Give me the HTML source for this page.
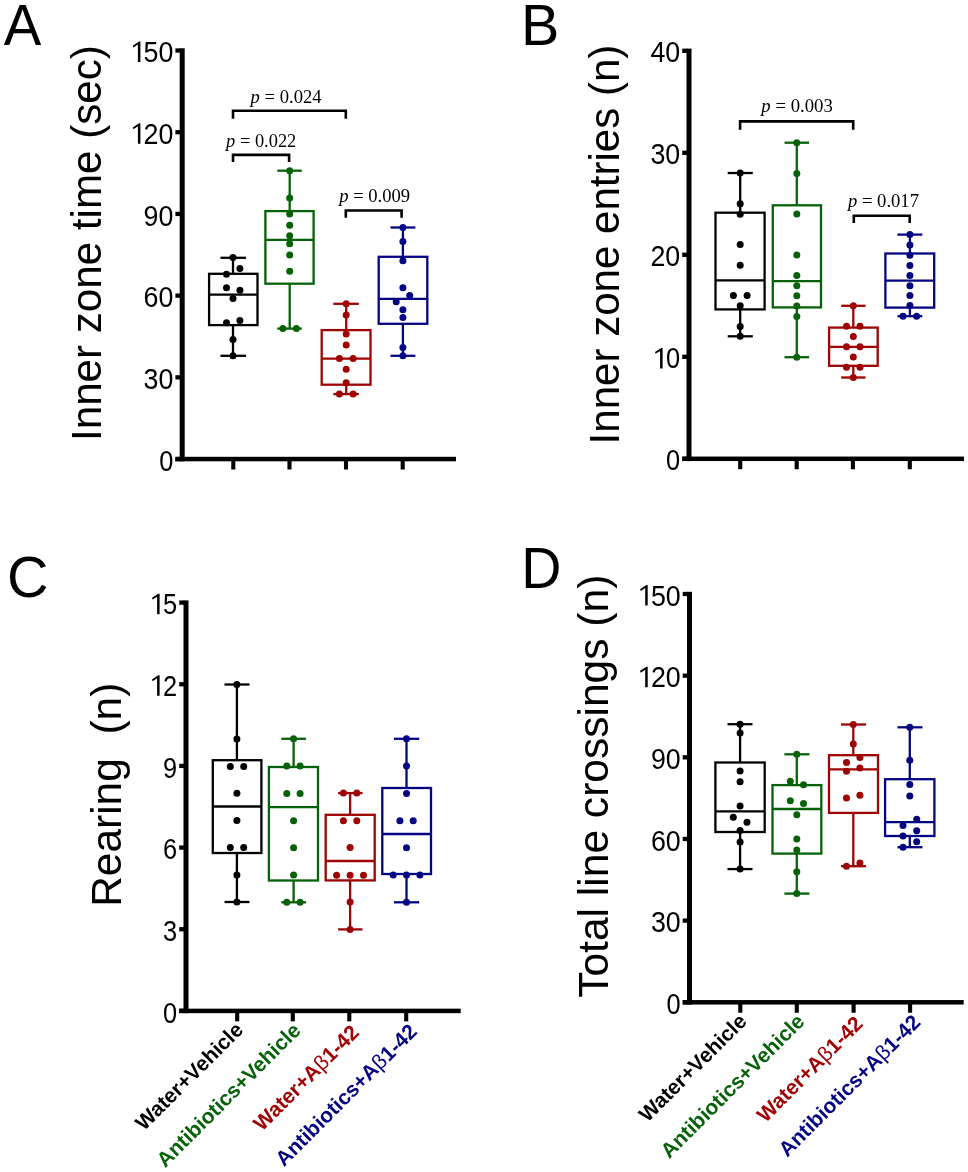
<!DOCTYPE html><html><head><meta charset="utf-8"><style>
html,body{margin:0;padding:0;background:#fff;}svg{display:block;will-change:transform;}
text{font-family:"Liberation Sans",sans-serif;}
.tl{font-size:29.6px;}
.pl{font-size:57.5px;}
.pv{font-family:"Liberation Serif",serif;font-size:18px;}
.xl{font-weight:bold;}
.beta{font-weight:normal;}
</style></head><body>
<svg width="968" height="1172" viewBox="0 0 968 1172">
<rect width="968" height="1172" fill="#fff"/>
<text class="pl" x="3.7" y="44.8" textLength="37.55" lengthAdjust="spacingAndGlyphs">A</text>
<text class="pl" x="521.1" y="44.8">B</text>
<text class="pl" x="7.1" y="597.1">C</text>
<text class="pl" x="521.3" y="587.9" textLength="40.2" lengthAdjust="spacingAndGlyphs">D</text>
<rect x="179.70" y="48.30" width="5.0" height="413.00" fill="#000"/>
<rect x="175.40" y="456.80" width="280.60" height="4.5" fill="#000"/>
<rect x="175.40" y="48.35" width="5.30" height="4.3" fill="#000"/>
<rect x="175.40" y="130.06" width="5.30" height="4.3" fill="#000"/>
<rect x="175.40" y="211.77" width="5.30" height="4.3" fill="#000"/>
<rect x="175.40" y="293.48" width="5.30" height="4.3" fill="#000"/>
<rect x="175.40" y="375.19" width="5.30" height="4.3" fill="#000"/>
<rect x="175.40" y="456.90" width="5.30" height="4.3" fill="#000"/>
<rect x="231.25" y="459.05" width="4.1" height="10.45" fill="#000"/>
<rect x="287.45" y="459.05" width="4.1" height="10.45" fill="#000"/>
<rect x="343.95" y="459.05" width="4.1" height="10.45" fill="#000"/>
<rect x="400.65" y="459.05" width="4.1" height="10.45" fill="#000"/>
<text class="tl" text-anchor="end" transform="translate(173.43,62.10) scale(0.906,1)">50</text>
<path d="M140.40 41.60L140.40 62.10L137.90 62.10L137.90 44.60L133.40 47.50L132.80 45.70L139.10 41.60Z" fill="#000"/>
<text class="tl" text-anchor="end" transform="translate(173.43,143.81) scale(0.906,1)">20</text>
<path d="M140.40 123.31L140.40 143.81L137.90 143.81L137.90 126.31L133.40 129.21L132.80 127.41L139.10 123.31Z" fill="#000"/>
<text class="tl" text-anchor="end" transform="translate(173.43,225.52) scale(0.906,1)">90</text>
<text class="tl" text-anchor="end" transform="translate(173.43,307.23) scale(0.906,1)">60</text>
<text class="tl" text-anchor="end" transform="translate(173.43,388.94) scale(0.906,1)">30</text>
<text class="tl" text-anchor="end" transform="translate(173.40,470.65) scale(0.858,1)">0</text>
<text class="yl" font-size="42.4" transform="translate(101,441.0) rotate(-90)" textLength="395.8" lengthAdjust="spacingAndGlyphs">Inner zone time (sec)</text>
<g stroke="#000000" stroke-width="2.3" fill="none">
<line x1="233.0" y1="257.8" x2="233.0" y2="273.8"/>
<line x1="233.0" y1="325.1" x2="233.0" y2="355.8"/>
<line x1="220.5" y1="257.8" x2="246.0" y2="257.8"/>
<line x1="220.5" y1="355.8" x2="246.0" y2="355.8"/>
<rect x="209.1" y="273.8" width="48.40" height="51.30"/>
<line x1="209.1" y1="294.6" x2="257.5" y2="294.6"/>
</g>
<g fill="#000000">
<circle cx="233.0" cy="257.5" r="3.5"/>
<circle cx="239.9" cy="268.5" r="3.5"/>
<circle cx="226.5" cy="274.2" r="3.5"/>
<circle cx="226.5" cy="287.7" r="3.5"/>
<circle cx="239.9" cy="290.3" r="3.5"/>
<circle cx="233.0" cy="298.6" r="3.5"/>
<circle cx="239.9" cy="320.4" r="3.5"/>
<circle cx="226.5" cy="322.7" r="3.5"/>
<circle cx="233.0" cy="339.6" r="3.5"/>
<circle cx="233.0" cy="355.8" r="3.5"/>
</g>
<g stroke="#066209" stroke-width="2.3" fill="none">
<line x1="289.7" y1="170.7" x2="289.7" y2="211.1"/>
<line x1="289.7" y1="283.7" x2="289.7" y2="328.6"/>
<line x1="277.3" y1="170.7" x2="301.8" y2="170.7"/>
<line x1="277.3" y1="328.6" x2="301.8" y2="328.6"/>
<rect x="265.4" y="211.1" width="48.20" height="72.60"/>
<line x1="265.4" y1="239.8" x2="313.6" y2="239.8"/>
</g>
<g fill="#066209">
<circle cx="289.7" cy="170.7" r="3.5"/>
<circle cx="289.7" cy="197.9" r="3.5"/>
<circle cx="289.7" cy="214" r="3.5"/>
<circle cx="289.7" cy="225.2" r="3.5"/>
<circle cx="289.7" cy="235.7" r="3.5"/>
<circle cx="289.7" cy="243.7" r="3.5"/>
<circle cx="289.7" cy="254.9" r="3.5"/>
<circle cx="289.7" cy="271.3" r="3.5"/>
<circle cx="282.9" cy="328.6" r="3.5"/>
<circle cx="296.4" cy="328.6" r="3.5"/>
</g>
<g stroke="#a00303" stroke-width="2.3" fill="none">
<line x1="346.2" y1="303.8" x2="346.2" y2="330.1"/>
<line x1="346.2" y1="384.7" x2="346.2" y2="394.1"/>
<line x1="333.4" y1="303.8" x2="358.8" y2="303.8"/>
<line x1="333.4" y1="394.1" x2="358.8" y2="394.1"/>
<rect x="321.7" y="330.1" width="48.80" height="54.60"/>
<line x1="321.7" y1="358.6" x2="370.5" y2="358.6"/>
</g>
<g fill="#a00303">
<circle cx="346.2" cy="303.8" r="3.5"/>
<circle cx="346.2" cy="314.9" r="3.5"/>
<circle cx="346.2" cy="334.0" r="3.5"/>
<circle cx="346.2" cy="345.0" r="3.5"/>
<circle cx="339.4" cy="358.6" r="3.5"/>
<circle cx="353.1" cy="358.6" r="3.5"/>
<circle cx="346.2" cy="369.3" r="3.5"/>
<circle cx="346.2" cy="382.7" r="3.5"/>
<circle cx="339.4" cy="394.1" r="3.5"/>
<circle cx="353.1" cy="394.1" r="3.5"/>
</g>
<g stroke="#050584" stroke-width="2.3" fill="none">
<line x1="402.9" y1="227.5" x2="402.9" y2="256.8"/>
<line x1="402.9" y1="323.8" x2="402.9" y2="355.8"/>
<line x1="390.5" y1="227.5" x2="415.4" y2="227.5"/>
<line x1="390.5" y1="355.8" x2="415.4" y2="355.8"/>
<rect x="378.7" y="256.8" width="48.60" height="67.00"/>
<line x1="378.7" y1="298.8" x2="427.3" y2="298.8"/>
</g>
<g fill="#050584">
<circle cx="402.9" cy="227.5" r="3.5"/>
<circle cx="402.9" cy="241.5" r="3.5"/>
<circle cx="402.9" cy="260.7" r="3.5"/>
<circle cx="402.9" cy="287.7" r="3.5"/>
<circle cx="409.7" cy="295.6" r="3.5"/>
<circle cx="396.2" cy="301.8" r="3.5"/>
<circle cx="402.9" cy="309.7" r="3.5"/>
<circle cx="402.9" cy="317.4" r="3.5"/>
<circle cx="402.9" cy="347.5" r="3.5"/>
<circle cx="402.9" cy="355.8" r="3.5"/>
</g>
<path d="M233 118.8 V110.8 H345.8 V118.8" stroke="#000" stroke-width="2.6" fill="none"/>
<text class="pv" x="250.63" y="102.9" textLength="70.92" lengthAdjust="spacingAndGlyphs"><tspan font-style="italic">p</tspan> = 0.024</text>
<path d="M233 161.9 V154.9 H289.1 V161.9" stroke="#000" stroke-width="2.6" fill="none"/>
<text class="pv" x="226.12" y="146.5" textLength="70.23" lengthAdjust="spacingAndGlyphs"><tspan font-style="italic">p</tspan> = 0.022</text>
<path d="M345.8 217.7 V210.5 H401.6 V217.7" stroke="#000" stroke-width="2.6" fill="none"/>
<text class="pv" x="339.23" y="201.6" textLength="70.92" lengthAdjust="spacingAndGlyphs"><tspan font-style="italic">p</tspan> = 0.009</text>
<rect x="686.50" y="48.60" width="5.0" height="412.45" fill="#000"/>
<rect x="682.20" y="456.55" width="281.80" height="4.5" fill="#000"/>
<rect x="682.20" y="48.65" width="5.30" height="4.3" fill="#000"/>
<rect x="682.20" y="150.65" width="5.30" height="4.3" fill="#000"/>
<rect x="682.20" y="252.65" width="5.30" height="4.3" fill="#000"/>
<rect x="682.20" y="354.65" width="5.30" height="4.3" fill="#000"/>
<rect x="682.20" y="456.65" width="5.30" height="4.3" fill="#000"/>
<rect x="738.15" y="458.80" width="4.1" height="10.45" fill="#000"/>
<rect x="794.65" y="458.80" width="4.1" height="10.45" fill="#000"/>
<rect x="850.85" y="458.80" width="4.1" height="10.45" fill="#000"/>
<rect x="907.75" y="458.80" width="4.1" height="10.45" fill="#000"/>
<text class="tl" text-anchor="end" transform="translate(680.23,62.40) scale(0.906,1)">40</text>
<text class="tl" text-anchor="end" transform="translate(680.23,164.40) scale(0.906,1)">30</text>
<text class="tl" text-anchor="end" transform="translate(680.23,266.40) scale(0.906,1)">20</text>
<text class="tl" text-anchor="end" transform="translate(680.20,368.40) scale(0.858,1)">0</text>
<path d="M662.60 347.90L662.60 368.40L660.10 368.40L660.10 350.90L655.60 353.80L655.00 352.00L661.30 347.90Z" fill="#000"/>
<text class="tl" text-anchor="end" transform="translate(680.20,470.40) scale(0.858,1)">0</text>
<text class="yl" font-size="42.4" transform="translate(619.2,444.4) rotate(-90)" textLength="399.7" lengthAdjust="spacingAndGlyphs">Inner zone entries (n)</text>
<g stroke="#000000" stroke-width="2.3" fill="none">
<line x1="740.2" y1="173" x2="740.2" y2="212.7"/>
<line x1="740.2" y1="309.4" x2="740.2" y2="336.3"/>
<line x1="727.7" y1="173" x2="752.8" y2="173"/>
<line x1="727.7" y1="336.3" x2="752.8" y2="336.3"/>
<rect x="715.5" y="212.7" width="49.10" height="96.70"/>
<line x1="715.5" y1="280.4" x2="764.6" y2="280.4"/>
</g>
<g fill="#000000">
<circle cx="740.2" cy="173" r="3.5"/>
<circle cx="740.2" cy="203.8" r="3.5"/>
<circle cx="740.2" cy="214.3" r="3.5"/>
<circle cx="740.2" cy="244.6" r="3.5"/>
<circle cx="740.2" cy="265.3" r="3.5"/>
<circle cx="733.4" cy="295.5" r="3.5"/>
<circle cx="747.1" cy="295.5" r="3.5"/>
<circle cx="740.2" cy="305.8" r="3.5"/>
<circle cx="740.2" cy="326.4" r="3.5"/>
<circle cx="740.2" cy="336.3" r="3.5"/>
</g>
<g stroke="#066209" stroke-width="2.3" fill="none">
<line x1="796.8" y1="142.7" x2="796.8" y2="205.3"/>
<line x1="796.8" y1="307.4" x2="796.8" y2="357.2"/>
<line x1="784.5" y1="142.7" x2="809.1" y2="142.7"/>
<line x1="784.5" y1="357.2" x2="809.1" y2="357.2"/>
<rect x="772.8" y="205.3" width="48.20" height="102.10"/>
<line x1="772.8" y1="281.1" x2="821.0" y2="281.1"/>
</g>
<g fill="#066209">
<circle cx="796.8" cy="142.7" r="3.5"/>
<circle cx="796.8" cy="173.5" r="3.5"/>
<circle cx="796.8" cy="214.1" r="3.5"/>
<circle cx="796.8" cy="255.1" r="3.5"/>
<circle cx="796.8" cy="275.6" r="3.5"/>
<circle cx="796.8" cy="285.8" r="3.5"/>
<circle cx="796.8" cy="295.7" r="3.5"/>
<circle cx="796.8" cy="305.9" r="3.5"/>
<circle cx="796.8" cy="316.6" r="3.5"/>
<circle cx="796.8" cy="357.2" r="3.5"/>
</g>
<g stroke="#a00303" stroke-width="2.3" fill="none">
<line x1="853.3" y1="305.8" x2="853.3" y2="327.6"/>
<line x1="853.3" y1="365.8" x2="853.3" y2="377.5"/>
<line x1="841.2" y1="305.8" x2="865.5" y2="305.8"/>
<line x1="841.2" y1="377.5" x2="865.5" y2="377.5"/>
<rect x="829.1" y="327.6" width="48.60" height="38.20"/>
<line x1="829.1" y1="346.8" x2="877.7" y2="346.8"/>
</g>
<g fill="#a00303">
<circle cx="853.3" cy="305.8" r="3.5"/>
<circle cx="846.5" cy="326.3" r="3.5"/>
<circle cx="860" cy="326.3" r="3.5"/>
<circle cx="853.3" cy="336.5" r="3.5"/>
<circle cx="846.5" cy="346.8" r="3.5"/>
<circle cx="860" cy="346.8" r="3.5"/>
<circle cx="853.3" cy="357" r="3.5"/>
<circle cx="846.5" cy="367.2" r="3.5"/>
<circle cx="860" cy="367.2" r="3.5"/>
<circle cx="853.3" cy="377.5" r="3.5"/>
</g>
<g stroke="#050584" stroke-width="2.3" fill="none">
<line x1="909.9" y1="234.6" x2="909.9" y2="253.5"/>
<line x1="909.9" y1="307.6" x2="909.9" y2="316.2"/>
<line x1="897.4" y1="234.6" x2="922.3" y2="234.6"/>
<line x1="897.4" y1="316.2" x2="922.3" y2="316.2"/>
<rect x="885.4" y="253.5" width="48.80" height="54.10"/>
<line x1="885.4" y1="280.6" x2="934.2" y2="280.6"/>
</g>
<g fill="#050584">
<circle cx="909.9" cy="234.6" r="3.5"/>
<circle cx="909.9" cy="244.9" r="3.5"/>
<circle cx="909.9" cy="255.2" r="3.5"/>
<circle cx="909.9" cy="265.5" r="3.5"/>
<circle cx="909.9" cy="275.6" r="3.5"/>
<circle cx="909.9" cy="285.7" r="3.5"/>
<circle cx="909.9" cy="295.6" r="3.5"/>
<circle cx="909.9" cy="305.4" r="3.5"/>
<circle cx="903" cy="316.2" r="3.5"/>
<circle cx="916.6" cy="316.2" r="3.5"/>
</g>
<path d="M740.1 129.8 V121.4 H853.2 V129.8" stroke="#000" stroke-width="2.6" fill="none"/>
<text class="pv" x="761.34" y="111.9" textLength="71.50" lengthAdjust="spacingAndGlyphs"><tspan font-style="italic">p</tspan> = 0.003</text>
<path d="M853.8 223.1 V215.7 H909.7 V223.1" stroke="#000" stroke-width="2.6" fill="none"/>
<text class="pv" x="848.03" y="207.3" textLength="70.92" lengthAdjust="spacingAndGlyphs"><tspan font-style="italic">p</tspan> = 0.017</text>
<rect x="183.50" y="600.40" width="5.0" height="412.75" fill="#000"/>
<rect x="179.20" y="1008.65" width="281.50" height="4.5" fill="#000"/>
<rect x="179.20" y="600.45" width="5.30" height="4.3" fill="#000"/>
<rect x="179.20" y="682.11" width="5.30" height="4.3" fill="#000"/>
<rect x="179.20" y="763.77" width="5.30" height="4.3" fill="#000"/>
<rect x="179.20" y="845.43" width="5.30" height="4.3" fill="#000"/>
<rect x="179.20" y="927.09" width="5.30" height="4.3" fill="#000"/>
<rect x="179.20" y="1008.75" width="5.30" height="4.3" fill="#000"/>
<rect x="235.15" y="1010.90" width="4.1" height="10.45" fill="#000"/>
<rect x="290.75" y="1010.90" width="4.1" height="10.45" fill="#000"/>
<rect x="347.25" y="1010.90" width="4.1" height="10.45" fill="#000"/>
<rect x="404.15" y="1010.90" width="4.1" height="10.45" fill="#000"/>
<text class="tl" text-anchor="end" transform="translate(177.20,614.20) scale(0.858,1)">5</text>
<path d="M159.60 593.70L159.60 614.20L157.10 614.20L157.10 596.70L152.60 599.60L152.00 597.80L158.30 593.70Z" fill="#000"/>
<text class="tl" text-anchor="end" transform="translate(177.20,695.86) scale(0.858,1)">2</text>
<path d="M159.60 675.36L159.60 695.86L157.10 695.86L157.10 678.36L152.60 681.26L152.00 679.46L158.30 675.36Z" fill="#000"/>
<text class="tl" text-anchor="end" transform="translate(177.20,777.52) scale(0.858,1)">9</text>
<text class="tl" text-anchor="end" transform="translate(177.20,859.18) scale(0.858,1)">6</text>
<text class="tl" text-anchor="end" transform="translate(177.20,940.84) scale(0.858,1)">3</text>
<text class="tl" text-anchor="end" transform="translate(177.20,1022.50) scale(0.858,1)">0</text>
<text class="yl" font-size="42.4" transform="translate(120.6,906.8) rotate(-90)" textLength="224.1" lengthAdjust="spacingAndGlyphs">Rearing&#160;&#160;(n)</text>
<g stroke="#000000" stroke-width="2.3" fill="none">
<line x1="236.9" y1="684.5" x2="236.9" y2="760.2"/>
<line x1="236.9" y1="853" x2="236.9" y2="902"/>
<line x1="224.5" y1="684.5" x2="249.5" y2="684.5"/>
<line x1="224.5" y1="902" x2="249.5" y2="902"/>
<rect x="212.8" y="760.2" width="48.60" height="92.80"/>
<line x1="212.8" y1="806.5" x2="261.4" y2="806.5"/>
</g>
<g fill="#000000">
<circle cx="236.9" cy="684.5" r="3.5"/>
<circle cx="236.9" cy="738.9" r="3.5"/>
<circle cx="230.3" cy="766.4" r="3.5"/>
<circle cx="243.7" cy="766.4" r="3.5"/>
<circle cx="236.9" cy="793.2" r="3.5"/>
<circle cx="236.9" cy="820.5" r="3.5"/>
<circle cx="230.3" cy="847.4" r="3.5"/>
<circle cx="243.7" cy="847.4" r="3.5"/>
<circle cx="236.9" cy="875.1" r="3.5"/>
<circle cx="236.9" cy="902" r="3.5"/>
</g>
<g stroke="#066209" stroke-width="2.3" fill="none">
<line x1="293.6" y1="738.8" x2="293.6" y2="767"/>
<line x1="293.6" y1="880.5" x2="293.6" y2="902.3"/>
<line x1="281.3" y1="738.8" x2="306.1" y2="738.8"/>
<line x1="281.3" y1="902.3" x2="306.1" y2="902.3"/>
<rect x="268.9" y="767" width="49.10" height="113.50"/>
<line x1="268.9" y1="807.1" x2="318" y2="807.1"/>
</g>
<g fill="#066209">
<circle cx="293.6" cy="738.8" r="3.5"/>
<circle cx="286.8" cy="766.1" r="3.5"/>
<circle cx="300.1" cy="766.1" r="3.5"/>
<circle cx="286.8" cy="793.4" r="3.5"/>
<circle cx="300.1" cy="793.4" r="3.5"/>
<circle cx="293.6" cy="820.7" r="3.5"/>
<circle cx="293.6" cy="847.7" r="3.5"/>
<circle cx="293.6" cy="875" r="3.5"/>
<circle cx="286.8" cy="902.3" r="3.5"/>
<circle cx="300.1" cy="902.3" r="3.5"/>
</g>
<g stroke="#a00303" stroke-width="2.3" fill="none">
<line x1="350.1" y1="793.1" x2="350.1" y2="814.8"/>
<line x1="350.1" y1="880.4" x2="350.1" y2="929.4"/>
<line x1="338.1" y1="793.1" x2="362.5" y2="793.1"/>
<line x1="338.1" y1="929.4" x2="362.5" y2="929.4"/>
<rect x="325.7" y="814.8" width="49.00" height="65.60"/>
<line x1="325.7" y1="861" x2="374.7" y2="861"/>
</g>
<g fill="#a00303">
<circle cx="343.4" cy="793.1" r="3.5"/>
<circle cx="356.8" cy="793.1" r="3.5"/>
<circle cx="343.4" cy="820.7" r="3.5"/>
<circle cx="356.8" cy="820.7" r="3.5"/>
<circle cx="350.1" cy="847.6" r="3.5"/>
<circle cx="336.6" cy="875.2" r="3.5"/>
<circle cx="350.1" cy="875.2" r="3.5"/>
<circle cx="363.5" cy="875.2" r="3.5"/>
<circle cx="350.1" cy="902.1" r="3.5"/>
<circle cx="350.1" cy="929.4" r="3.5"/>
</g>
<g stroke="#050584" stroke-width="2.3" fill="none">
<line x1="406.5" y1="738.8" x2="406.5" y2="788"/>
<line x1="406.5" y1="874" x2="406.5" y2="902.3"/>
<line x1="393.9" y1="738.8" x2="419.2" y2="738.8"/>
<line x1="393.9" y1="902.3" x2="419.2" y2="902.3"/>
<rect x="382.3" y="788" width="48.70" height="86.00"/>
<line x1="382.3" y1="834" x2="431" y2="834"/>
</g>
<g fill="#050584">
<circle cx="406.5" cy="738.8" r="3.5"/>
<circle cx="406.5" cy="766.1" r="3.5"/>
<circle cx="406.5" cy="793.4" r="3.5"/>
<circle cx="399.9" cy="820.7" r="3.5"/>
<circle cx="413.2" cy="820.7" r="3.5"/>
<circle cx="406.5" cy="847.7" r="3.5"/>
<circle cx="393.2" cy="875" r="3.5"/>
<circle cx="406.5" cy="875" r="3.5"/>
<circle cx="419.9" cy="875" r="3.5"/>
<circle cx="406.5" cy="902.3" r="3.5"/>
</g>
<text class="xl" font-size="21" fill="#000000" text-anchor="end" transform="translate(244.5,1031) rotate(-45)">Water+Vehicle</text>
<text class="xl" font-size="21" fill="#066209" text-anchor="end" transform="translate(301.9,1031.7) rotate(-45)">Antibiotics+Vehicle</text>
<text class="xl" font-size="21" fill="#a00303" text-anchor="end" transform="translate(360.3,1033.7) rotate(-45)">Water+A<tspan class="beta">β</tspan>1-42</text>
<text class="xl" font-size="21" fill="#050584" text-anchor="end" transform="translate(418.35,1032.85) rotate(-45)">Antibiotics+A<tspan class="beta">β</tspan>1-42</text>
<rect x="687.00" y="591.80" width="5.0" height="412.75" fill="#000"/>
<rect x="682.70" y="1000.05" width="281.00" height="4.5" fill="#000"/>
<rect x="682.70" y="591.85" width="5.30" height="4.3" fill="#000"/>
<rect x="682.70" y="673.51" width="5.30" height="4.3" fill="#000"/>
<rect x="682.70" y="755.17" width="5.30" height="4.3" fill="#000"/>
<rect x="682.70" y="836.83" width="5.30" height="4.3" fill="#000"/>
<rect x="682.70" y="918.49" width="5.30" height="4.3" fill="#000"/>
<rect x="682.70" y="1000.15" width="5.30" height="4.3" fill="#000"/>
<rect x="738.25" y="1002.30" width="4.1" height="10.45" fill="#000"/>
<rect x="794.75" y="1002.30" width="4.1" height="10.45" fill="#000"/>
<rect x="851.55" y="1002.30" width="4.1" height="10.45" fill="#000"/>
<rect x="908.05" y="1002.30" width="4.1" height="10.45" fill="#000"/>
<text class="tl" text-anchor="end" transform="translate(680.73,605.60) scale(0.906,1)">50</text>
<path d="M647.70 585.10L647.70 605.60L645.20 605.60L645.20 588.10L640.70 591.00L640.10 589.20L646.40 585.10Z" fill="#000"/>
<text class="tl" text-anchor="end" transform="translate(680.73,687.26) scale(0.906,1)">20</text>
<path d="M647.70 666.76L647.70 687.26L645.20 687.26L645.20 669.76L640.70 672.66L640.10 670.86L646.40 666.76Z" fill="#000"/>
<text class="tl" text-anchor="end" transform="translate(680.73,768.92) scale(0.906,1)">90</text>
<text class="tl" text-anchor="end" transform="translate(680.73,850.58) scale(0.906,1)">60</text>
<text class="tl" text-anchor="end" transform="translate(680.73,932.24) scale(0.906,1)">30</text>
<text class="tl" text-anchor="end" transform="translate(680.70,1013.90) scale(0.858,1)">0</text>
<text class="yl" font-size="42.4" transform="translate(608,997.8) rotate(-90)" textLength="423.1" lengthAdjust="spacingAndGlyphs">Total line crossings (n)</text>
<g stroke="#000000" stroke-width="2.3" fill="none">
<line x1="740.1" y1="724.2" x2="740.1" y2="762.5"/>
<line x1="740.1" y1="832" x2="740.1" y2="869.1"/>
<line x1="727.5" y1="724.2" x2="752.5" y2="724.2"/>
<line x1="727.5" y1="869.1" x2="752.5" y2="869.1"/>
<rect x="715.4" y="762.5" width="49.30" height="69.50"/>
<line x1="715.4" y1="811.4" x2="764.7" y2="811.4"/>
</g>
<g fill="#000000">
<circle cx="740.1" cy="724.2" r="3.5"/>
<circle cx="740.1" cy="732.9" r="3.5"/>
<circle cx="740.1" cy="770.9" r="3.5"/>
<circle cx="740.1" cy="781.7" r="3.5"/>
<circle cx="740.1" cy="805.9" r="3.5"/>
<circle cx="733.3" cy="817.2" r="3.5"/>
<circle cx="747" cy="822.3" r="3.5"/>
<circle cx="740.1" cy="830.6" r="3.5"/>
<circle cx="740.1" cy="841.9" r="3.5"/>
<circle cx="740.1" cy="869.1" r="3.5"/>
</g>
<g stroke="#066209" stroke-width="2.3" fill="none">
<line x1="796.8" y1="754.3" x2="796.8" y2="785.1"/>
<line x1="796.8" y1="853.6" x2="796.8" y2="893.6"/>
<line x1="784.4" y1="754.3" x2="809.4" y2="754.3"/>
<line x1="784.4" y1="893.6" x2="809.4" y2="893.6"/>
<rect x="772.5" y="785.1" width="48.80" height="68.50"/>
<line x1="772.5" y1="809" x2="821.3" y2="809"/>
</g>
<g fill="#066209">
<circle cx="796.8" cy="754.3" r="3.5"/>
<circle cx="790.3" cy="781.2" r="3.5"/>
<circle cx="803.5" cy="784.8" r="3.5"/>
<circle cx="790.3" cy="800.8" r="3.5"/>
<circle cx="803.5" cy="803.5" r="3.5"/>
<circle cx="796.8" cy="814.8" r="3.5"/>
<circle cx="796.8" cy="839" r="3.5"/>
<circle cx="796.8" cy="849.9" r="3.5"/>
<circle cx="796.8" cy="871.8" r="3.5"/>
<circle cx="796.8" cy="893.6" r="3.5"/>
</g>
<g stroke="#a00303" stroke-width="2.3" fill="none">
<line x1="853.3" y1="724.5" x2="853.3" y2="755.2"/>
<line x1="853.3" y1="812.9" x2="853.3" y2="866.2"/>
<line x1="841" y1="724.5" x2="866.1" y2="724.5"/>
<line x1="841" y1="866.2" x2="866.1" y2="866.2"/>
<rect x="829" y="755.2" width="49.00" height="57.70"/>
<line x1="829" y1="769.4" x2="878" y2="769.4"/>
</g>
<g fill="#a00303">
<circle cx="853.3" cy="724.5" r="3.5"/>
<circle cx="853.3" cy="744.1" r="3.5"/>
<circle cx="859.9" cy="757.5" r="3.5"/>
<circle cx="846.5" cy="762.5" r="3.5"/>
<circle cx="859.9" cy="768" r="3.5"/>
<circle cx="846.5" cy="771.2" r="3.5"/>
<circle cx="859.9" cy="795.2" r="3.5"/>
<circle cx="846.5" cy="798.1" r="3.5"/>
<circle cx="859.9" cy="862.9" r="3.5"/>
<circle cx="846.5" cy="866.2" r="3.5"/>
</g>
<g stroke="#050584" stroke-width="2.3" fill="none">
<line x1="909.8" y1="727.3" x2="909.8" y2="779.2"/>
<line x1="909.8" y1="836" x2="909.8" y2="847.2"/>
<line x1="897.5" y1="727.3" x2="922.5" y2="727.3"/>
<line x1="897.5" y1="847.2" x2="922.5" y2="847.2"/>
<rect x="885.1" y="779.2" width="49.30" height="56.80"/>
<line x1="885.1" y1="822.2" x2="934.4" y2="822.2"/>
</g>
<g fill="#050584">
<circle cx="909.8" cy="727.3" r="3.5"/>
<circle cx="909.8" cy="760.2" r="3.5"/>
<circle cx="909.8" cy="784.6" r="3.5"/>
<circle cx="909.8" cy="795.9" r="3.5"/>
<circle cx="916.7" cy="819.3" r="3.5"/>
<circle cx="903" cy="825.4" r="3.5"/>
<circle cx="916.7" cy="830.7" r="3.5"/>
<circle cx="903" cy="836" r="3.5"/>
<circle cx="916.7" cy="841.8" r="3.5"/>
<circle cx="903" cy="847.2" r="3.5"/>
</g>
<text class="xl" font-size="21" fill="#000000" text-anchor="end" transform="translate(748,1022.5) rotate(-45)">Water+Vehicle</text>
<text class="xl" font-size="21" fill="#066209" text-anchor="end" transform="translate(805.8,1022.7) rotate(-45)">Antibiotics+Vehicle</text>
<text class="xl" font-size="21" fill="#a00303" text-anchor="end" transform="translate(864,1025) rotate(-45)">Water+A<tspan class="beta">β</tspan>1-42</text>
<text class="xl" font-size="21" fill="#050584" text-anchor="end" transform="translate(921.65,1023.45) rotate(-45)">Antibiotics+A<tspan class="beta">β</tspan>1-42</text>
</svg></body></html>
